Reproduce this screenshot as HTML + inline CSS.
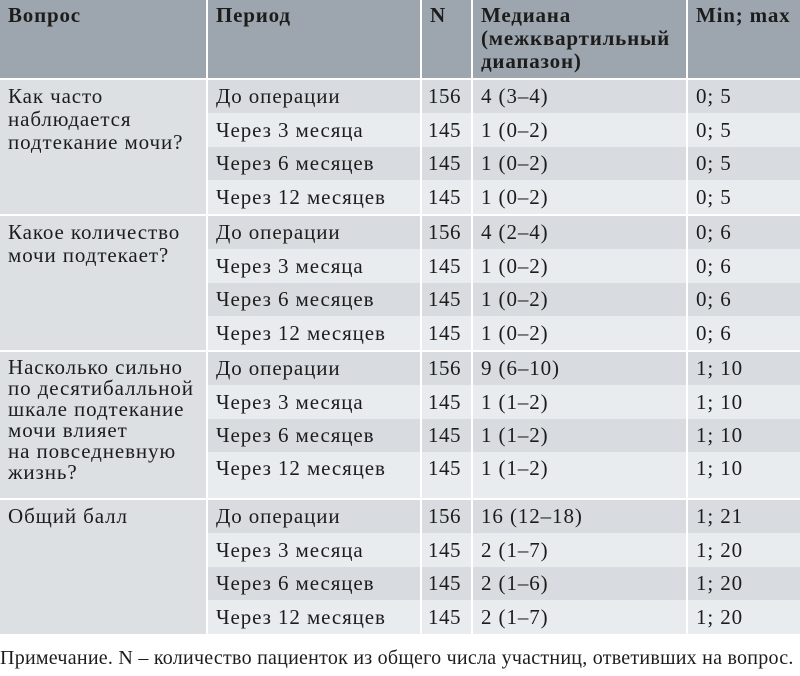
<!DOCTYPE html>
<html><head><meta charset="utf-8"><style>
body{margin:0;width:800px;height:676px;background:#fff;overflow:hidden;font-family:"Liberation Serif","DejaVu Serif",serif;color:#1c1c1c}
table{border-collapse:separate;border-spacing:2px 0;margin-left:-2px;width:804px;table-layout:fixed;font-size:21px;letter-spacing:0.9px}
td{padding:0 0 0 8px;vertical-align:middle;line-height:23px;white-space:nowrap;overflow:hidden}
th{background:#9da6ae;text-align:left;vertical-align:top;font-weight:bold;padding:4px 0 0 8px;line-height:23px;height:74px;white-space:nowrap;letter-spacing:0.8px}
td.q{background:#dce0e3;vertical-align:top;padding-top:5px}
tr.d td{background:#d8dce0}
tr.l td{background:#e9ecef}
tr.d td.q,tr.l td.q{background:#dce0e3}
tr.g td{border-top:2px solid #fff}
tr.d td{height:33px}
tr.l td{height:34px}
td.n{padding-left:6px;letter-spacing:0.5px}
.note{position:absolute;left:0;top:647px;font-size:20px;letter-spacing:0.25px;white-space:nowrap}
</style></head><body>
<table>
<colgroup><col style="width:206px"><col style="width:212px"><col style="width:49px"><col style="width:213px"><col style="width:116px"></colgroup>
<tr><th>Вопрос</th><th>Период</th><th>N</th><th>Медиана<br>(межквартильный<br>диапазон)</th><th>Min; max</th></tr>
<tr class="d g"><td class="q" rowspan="4">Как часто<br>наблюдается<br>подтекание мочи?</td><td>До операции</td><td class="n">156</td><td>4 (3–4)</td><td>0; 5</td></tr>
<tr class="l"><td>Через 3 месяца</td><td class="n">145</td><td>1 (0–2)</td><td>0; 5</td></tr>
<tr class="d"><td>Через 6 месяцев</td><td class="n">145</td><td>1 (0–2)</td><td>0; 5</td></tr>
<tr class="l"><td>Через 12 месяцев</td><td class="n">145</td><td>1 (0–2)</td><td>0; 5</td></tr>
<tr class="d g"><td class="q" rowspan="4">Какое количество<br>мочи подтекает?</td><td>До операции</td><td class="n">156</td><td>4 (2–4)</td><td>0; 6</td></tr>
<tr class="l"><td>Через 3 месяца</td><td class="n">145</td><td>1 (0–2)</td><td>0; 6</td></tr>
<tr class="d"><td>Через 6 месяцев</td><td class="n">145</td><td>1 (0–2)</td><td>0; 6</td></tr>
<tr class="l"><td>Через 12 месяцев</td><td class="n">145</td><td>1 (0–2)</td><td>0; 6</td></tr>
<tr class="d g"><td class="q" rowspan="4" style="line-height:21px">Насколько сильно<br>по десятибалльной<br>шкале подтекание<br>мочи влияет<br>на повседневную<br>жизнь?</td><td>До операции</td><td class="n">156</td><td>9 (6–10)</td><td>1; 10</td></tr>
<tr class="l"><td>Через 3 месяца</td><td class="n">145</td><td>1 (1–2)</td><td>1; 10</td></tr>
<tr class="d"><td>Через 6 месяцев</td><td class="n">145</td><td>1 (1–2)</td><td>1; 10</td></tr>
<tr class="l"><td style="height:41px;vertical-align:top;padding-top:5px">Через 12 месяцев</td><td class="n" style="vertical-align:top;padding-top:5px">145</td><td style="vertical-align:top;padding-top:5px">1 (1–2)</td><td style="vertical-align:top;padding-top:5px">1; 10</td></tr>
<tr class="d g"><td class="q" rowspan="4">Общий балл</td><td>До операции</td><td class="n">156</td><td>16 (12–18)</td><td>1; 21</td></tr>
<tr class="l"><td>Через 3 месяца</td><td class="n">145</td><td>2 (1–7)</td><td>1; 20</td></tr>
<tr class="d"><td>Через 6 месяцев</td><td class="n">145</td><td>2 (1–6)</td><td>1; 20</td></tr>
<tr class="l"><td>Через 12 месяцев</td><td class="n">145</td><td>2 (1–7)</td><td>1; 20</td></tr>
</table>
<div class="note">Примечание. N – количество пациенток из общего числа участниц, ответивших на вопрос.</div>
</body></html>
